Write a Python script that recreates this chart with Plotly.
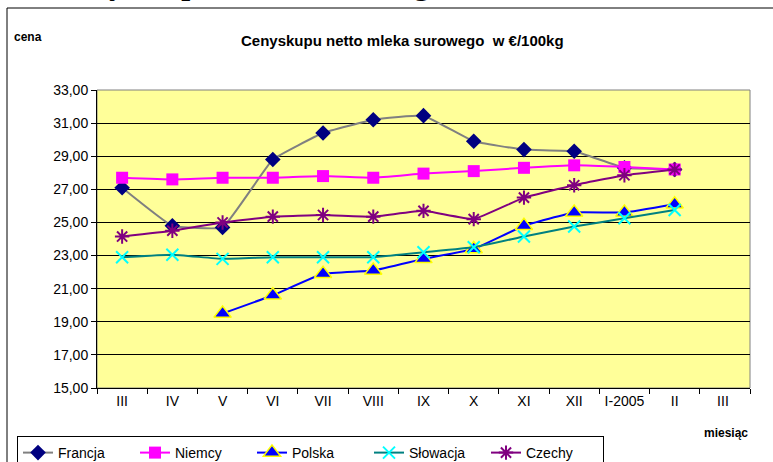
import plotly.graph_objects as go

months = ["III", "IV", "V", "VI", "VII", "VIII", "IX", "X", "XI", "XII", "I-2005", "II", "III "]

francja = [27.1, 24.8, 24.7, 28.8, 30.4, 31.2, 31.45, 29.9, 29.4, 29.3, 28.3, 28.2, None]
niemcy = [27.7, 27.6, 27.7, 27.7, 27.8, 27.7, 27.95, 28.1, 28.3, 28.45, 28.35, 28.2, None]
polska = [None, None, 19.5, 20.6, 21.9, 22.1, 22.8, 23.4, 24.8, 25.6, 25.6, 26.1, None]
slowacja = [22.9, 23.05, 22.8, 22.9, 22.9, 22.9, 23.2, 23.5, 24.15, 24.75, 25.25, 25.75, None]
czechy = [24.15, 24.5, 25.0, 25.35, 25.45, 25.35, 25.7, 25.2, 26.5, 27.25, 27.85, 28.2, None]

y_ticks = [15, 17, 19, 21, 23, 25, 27, 29, 31, 33]

FONT = "Liberation Sans, Arial, sans-serif"
SERIF = "Liberation Serif, Times New Roman, serif"

# plot area pixel geometry
W, H = 773, 462
L, R, T, B = 97, 23, 90, 74
PW, PH = W - L - R, H - T - B


def px(xp):
    return (xp - L) / PW


def py(yp):
    return (H - B - yp) / PH


fig = go.Figure()

series = [
    ("Francja", francja, "#808080", dict(symbol="diamond", size=12, color="#000080",
                                          line=dict(width=0))),
    ("Niemcy", niemcy, "#FF00FF", dict(symbol="square", size=12, color="#FF00FF",
                                        line=dict(width=0))),
    ("Polska", polska, "#0000FF", dict(symbol="triangle-up", size=15, color="#0000FF",
                                        line=dict(width=1.5, color="#FFFF00"))),
    ("Słowacja", slowacja, "#008080", dict(symbol="x-thin", size=12, color="#00FFFF",
                                            line=dict(width=2, color="#00FFFF"))),
    ("Czechy", czechy, "#800080", dict(symbol="asterisk", size=12, color="#800080",
                                        line=dict(width=2, color="#800080"))),
]

for name, vals, lc, mk in series:
    fig.add_trace(go.Scatter(
        x=months, y=vals, name=name, mode="lines+markers",
        line=dict(color=lc, width=2, shape="spline", smoothing=0.3),
        marker=mk, connectgaps=False,
    ))

fig.update_layout(
    width=W, height=H,
    margin=dict(l=L, r=R, t=T, b=B, autoexpand=False),
    paper_bgcolor="white",
    plot_bgcolor="#FFFF99",
    separators=", ",
    font=dict(family=FONT, size=14, color="black"),
    showlegend=True,
    legend=dict(
        orientation="h", xref="container", yref="container",
        x=17 / W, y=1 - 436 / H, xanchor="left", yanchor="top",
        bordercolor="black", borderwidth=1, bgcolor="white",
        font=dict(family=FONT, size=14), entrywidth=72, entrywidthmode="pixels",
        itemclick=False, tracegroupgap=0,
    ),
    xaxis=dict(
        type="category", categoryorder="array", categoryarray=months,
        range=[-0.5, len(months) - 0.5],
        showgrid=False, ticks="outside", tickson="boundaries", ticklen=5,
        tickcolor="black", showline=True, linecolor="black", linewidth=1,
        tickfont=dict(family=FONT, size=14), zeroline=False,
    ),
    yaxis=dict(
        range=[15, 33], tickvals=y_ticks, tickformat=".2f",
        showgrid=True, gridcolor="black", gridwidth=1,
        ticks="outside", ticklen=5, tickcolor="black",
        showline=True, linecolor="black", linewidth=1,
        tickfont=dict(family=FONT, size=14), zeroline=False,
    ),
    shapes=[
        dict(type="rect", xref="paper", yref="paper", x0=0, y0=0, x1=1, y1=1,
             line=dict(color="#808080", width=1), layer="below"),
        dict(type="rect", xref="paper", yref="paper",
             x0=px(7), y0=py(470), x1=px(780), y1=py(8),
             line=dict(color="black", width=1)),
    ],
    annotations=[
        # document heading above the chart, mostly cut off by the page edge
        dict(text="<b>Ceny skupu mleka surowego</b>",
             xref="paper", yref="paper", x=px(52), y=py(3),
             xanchor="left", yanchor="bottom", showarrow=False,
             font=dict(family=SERIF, size=32)),
        dict(text="<b>Cenyskupu netto mleka surowego  w €/100kg</b>",
             xref="paper", yref="paper", x=px(402), y=py(41),
             xanchor="center", yanchor="middle", showarrow=False,
             font=dict(family=FONT, size=15)),
        dict(text="<b>cena</b>", xref="paper", yref="paper",
             x=px(12), y=py(37), xanchor="left", yanchor="middle",
             showarrow=False, font=dict(family=FONT, size=12)),
        dict(text="<b>miesiąc</b>", xref="paper", yref="paper",
             x=px(750), y=py(433), xanchor="right", yanchor="middle",
             showarrow=False, font=dict(family=FONT, size=12)),
    ],
)

fig.write_html(
    "out.html",
    config={"displayModeBar": False},
    post_script="document.body.style.margin='0';document.body.style.overflow='hidden';",
)
